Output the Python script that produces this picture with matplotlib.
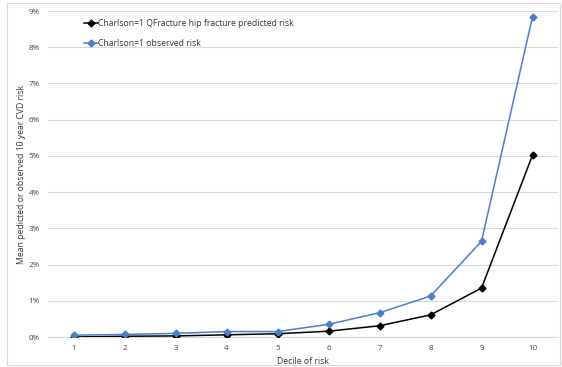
import numpy as np
import matplotlib.pyplot as plt
from matplotlib.ticker import PercentFormatter
from matplotlib.patches import Rectangle

deciles = [1, 2, 3, 4, 5, 6, 7, 8, 9, 10]
predicted = [0.0, 0.02, 0.03, 0.06, 0.09, 0.16, 0.31, 0.61, 1.35, 5.02]
observed = [0.05, 0.07, 0.10, 0.15, 0.15, 0.35, 0.67, 1.13, 2.64, 8.84]
pred_label = "Charlson=1 QFracture hip fracture predicted risk"
obs_label = "Charlson=1 observed risk"

plt.rcParams['font.family'] = ['Open Sans', 'DejaVu Sans']

fig = plt.figure(figsize=(5.62, 3.67), dpi=100)
ax = fig.add_axes([48 / 562, 1 - 337 / 367, 510 / 562, 326 / 367])

# outer chart border
fig.patches.append(Rectangle((7 / 562, 2 / 367), 553 / 562, 362 / 367,
                             transform=fig.transFigure, fill=False,
                             edgecolor='#d9d9d9', linewidth=0.8))

ax.plot(deciles, predicted, color='black', marker='D', markersize=3.5,
        linewidth=1.1, label=pred_label, zorder=3)
ax.plot(deciles, observed, color='#4a7ec8', marker='D', markersize=3.5,
        linewidth=1.1, label=obs_label, zorder=3)

ax.set_xlim(0.5, 10.5)
ax.set_ylim(0, 9)
ax.set_xticks(deciles)
ax.set_yticks(np.arange(0, 10, 1))
ax.yaxis.set_major_formatter(PercentFormatter(decimals=0))
ax.grid(axis='y', color='#d9d9d9', linewidth=0.8)
ax.set_axisbelow(True)
for s in ['top', 'right', 'left']:
    ax.spines[s].set_visible(False)
ax.spines['bottom'].set_color('#d9d9d9')
ax.tick_params(length=0, labelsize=5.8, colors='#404040', pad=6)

ax.set_xlabel("Decile of risk", fontsize=6.2, color='#333333', labelpad=3)
ax.set_ylabel("Mean pedicted or observed 10 year CVD risk", fontsize=6.2,
              color='#333333', labelpad=1.5)

ax.legend(loc='upper left', bbox_to_anchor=(0.055, 1.0), frameon=False,
          fontsize=6.2, handlelength=1.6, handletextpad=0.1, labelspacing=1.3,
          labelcolor='#333333')

fig.savefig('out.png', dpi=100)
